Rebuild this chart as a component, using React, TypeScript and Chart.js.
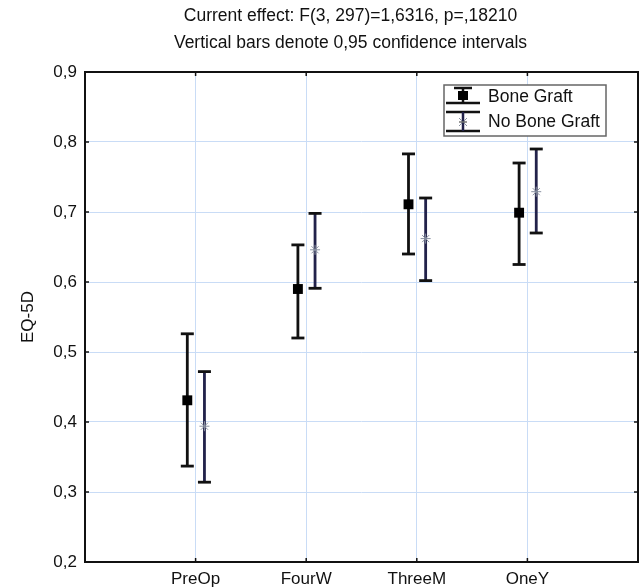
import React, { useEffect, useRef } from 'react';
import { Chart, registerables } from 'chart.js';

Chart.register(...registerables);

const categories = ['PreOp', 'FourW', 'ThreeM', 'OneY'];
const seriesNames = ['Bone Graft', 'No Bone Graft'];
const boneMean = [0.431, 0.590, 0.711, 0.699];
const boneLow = [0.337, 0.520, 0.640, 0.625];
const boneHigh = [0.526, 0.653, 0.783, 0.770];
const noBoneMean = [0.394, 0.646, 0.662, 0.729];
const noBoneLow = [0.314, 0.591, 0.602, 0.670];
const noBoneHigh = [0.472, 0.698, 0.720, 0.790];
const yMin = 0.2;
const yMax = 0.9;
const yStep = 0.1;
const titleLines = [
  'Current effect: F(3, 297)=1,6316, p=,18210',
  'Vertical bars denote 0,95 confidence intervals',
];
const yTitle = 'EQ-5D';

const FONT = "'Liberation Sans', Arial, Helvetica, sans-serif";
const BONE_OFFSET = -0.075;
const NOBONE_OFFSET = 0.08;

function whiskers(low: number[], high: number[], offset: number) {
  const pts: { x: number; y: number | null }[] = [];
  low.forEach((lo, i) => {
    const x = i + 1 + offset;
    pts.push({ x, y: lo });
    pts.push({ x, y: high[i] });
    pts.push({ x: x + 0.2, y: null });
  });
  return pts;
}

function means(vals: number[], offset: number) {
  return vals.map((v, i) => ({ x: i + 1 + offset, y: v }));
}

const framePlugin = {
  id: 'frameAndLegend',
  afterDraw(chart: any) {
    const { ctx, chartArea, scales } = chart;
    const { left, right, top, bottom } = chartArea;
    ctx.save();
    ctx.strokeStyle = '#111';
    ctx.lineWidth = 1.5;
    const seg = (x1: number, y1: number, x2: number, y2: number) => {
      ctx.beginPath();
      ctx.moveTo(x1, y1);
      ctx.lineTo(x2, y2);
      ctx.stroke();
    };
    scales.y.ticks.forEach((t: any) => {
      const py = scales.y.getPixelForValue(t.value);
      seg(left, py, left + 4, py);
      seg(right - 4, py, right, py);
    });
    scales.x.ticks.forEach((t: any) => {
      const px = scales.x.getPixelForValue(t.value);
      seg(px, bottom, px, bottom - 4);
      seg(px, top, px, top + 4);
    });
    ctx.lineWidth = 2;
    ctx.strokeRect(left, top, right - left, bottom - top);

    // titles
    ctx.fillStyle = '#111';
    ctx.font = `17.5px ${FONT}`;
    ctx.textAlign = 'center';
    ctx.textBaseline = 'middle';
    const cx = (left + right) / 2 - 11;
    titleLines.forEach((s, i) => ctx.fillText(s, cx, 16 + i * 27));

    // legend
    const bx = right - 194;
    const by = top + 13;
    const bw = 162;
    const bh = 51;
    ctx.fillStyle = '#fff';
    ctx.fillRect(bx, by, bw, bh);
    ctx.strokeStyle = '#666';
    ctx.lineWidth = 1.5;
    ctx.strokeRect(bx, by, bw, bh);
    const sx = bx + 19;
    ctx.strokeStyle = '#111';
    ctx.lineWidth = 2.5;
    // row 1
    seg(sx - 9, by + 3, sx + 9, by + 3);
    seg(sx - 17, by + 18, sx + 17, by + 18);
    seg(sx, by + 3, sx, by + 18);
    ctx.fillStyle = '#000';
    ctx.fillRect(sx - 5, by + 6, 10, 9);
    // row 2
    seg(sx - 17, by + 27, sx + 17, by + 27);
    seg(sx - 17, by + 46, sx + 17, by + 46);
    ctx.strokeStyle = '#22224a';
    seg(sx, by + 27, sx, by + 46);
    ctx.strokeStyle = '#8890a0';
    ctx.lineWidth = 1;
    const cy2 = by + 37;
    seg(sx - 4, cy2 - 4, sx + 4, cy2 + 4);
    seg(sx + 4, cy2 - 4, sx - 4, cy2 + 4);
    ctx.strokeStyle = '#333';
    seg(sx - 4, cy2, sx + 4, cy2);

    ctx.fillStyle = '#111';
    ctx.font = `17.5px ${FONT}`;
    ctx.textAlign = 'left';
    ctx.textBaseline = 'middle';
    ctx.fillText(seriesNames[0], bx + 44, by + 12);
    ctx.fillText(seriesNames[1], bx + 44, by + 37);
    ctx.restore();
  },
};

export default function App() {
  const ref = useRef<HTMLCanvasElement | null>(null);
  useEffect(() => {
    document.body.style.margin = '0';
    const canvas = ref.current;
    if (!canvas) return;
    const chart = new Chart(canvas, {
      type: 'scatter',
      data: {
        datasets: [
          {
            label: seriesNames[0] + ' mean',
            data: means(boneMean, BONE_OFFSET),
            pointStyle: 'rect',
            pointRadius: 7,
            pointBackgroundColor: '#000',
            pointBorderColor: '#000',
            pointBorderWidth: 0,
            showLine: false,
            order: 0,
          },
          {
            label: seriesNames[1] + ' mean',
            data: means(noBoneMean, NOBONE_OFFSET),
            pointStyle: 'star',
            pointRadius: 5,
            pointBorderColor: '#8890a0',
            pointBackgroundColor: '#8890a0',
            pointBorderWidth: 1,
            showLine: false,
            order: 0,
          },
          {
            label: seriesNames[0] + ' CI',
            data: whiskers(boneLow, boneHigh, BONE_OFFSET),
            showLine: true,
            spanGaps: false,
            borderColor: '#111',
            borderWidth: 2.8,
            pointStyle: 'line',
            pointRadius: 6.5,
            pointBorderWidth: 2.8,
            pointBorderColor: '#111',
            order: 1,
          },
          {
            label: seriesNames[1] + ' CI',
            data: whiskers(noBoneLow, noBoneHigh, NOBONE_OFFSET),
            showLine: true,
            spanGaps: false,
            borderColor: '#22224a',
            borderWidth: 2.8,
            pointStyle: 'line',
            pointRadius: 6.5,
            pointBorderWidth: 2.8,
            pointBorderColor: '#111',
            order: 1,
          },
        ],
      },
      options: {
        animation: false,
        responsive: false,
        events: [],
        layout: { autoPadding: false, padding: { left: 0, right: 1, top: 72, bottom: 0 } },
        plugins: {
          legend: { display: false },
          title: { display: false },
          tooltip: { enabled: false },
        },
        scales: {
          x: {
            type: 'linear',
            min: 0,
            max: categories.length + 1,
            afterBuildTicks: (s: any) => {
              s.ticks = categories.map((_, i) => ({ value: i + 1 }));
            },
            afterFit: (s: any) => {
              s.height = 25;
              s.paddingLeft = 0;
              s.paddingRight = 0;
            },
            ticks: {
              autoSkip: false,
              maxRotation: 0,
              padding: 7,
              color: '#111',
              font: { family: FONT, size: 17 },
              callback: (v: any) => categories[Math.round(Number(v)) - 1] ?? '',
            },
            grid: { color: '#c9dcf6', lineWidth: 1, drawTicks: false },
            border: { display: false },
          },
          y: {
            min: yMin,
            max: yMax,
            afterFit: (s: any) => {
              s.width = 85;
              s.paddingTop = 0;
              s.paddingBottom = 0;
            },
            ticks: {
              stepSize: yStep,
              padding: 8,
              color: '#111',
              font: { family: FONT, size: 17 },
              callback: (v: any) => (Math.round(Number(v) * 10) / 10).toFixed(1).replace('.', ','),
            },
            grid: { color: '#c9dcf6', lineWidth: 1, drawTicks: false },
            border: { display: false },
            title: {
              display: true,
              text: yTitle,
              color: '#111',
              font: { family: FONT, size: 17 },
              padding: { top: 18, bottom: 0 },
            },
          },
        },
      },
      plugins: [framePlugin],
    } as any);
    return () => chart.destroy();
  }, []);
  return (
    <div style={{ width: 639, height: 587 }}>
      <canvas ref={ref} width={639} height={587} style={{ display: 'block' }} />
    </div>
  );
}
